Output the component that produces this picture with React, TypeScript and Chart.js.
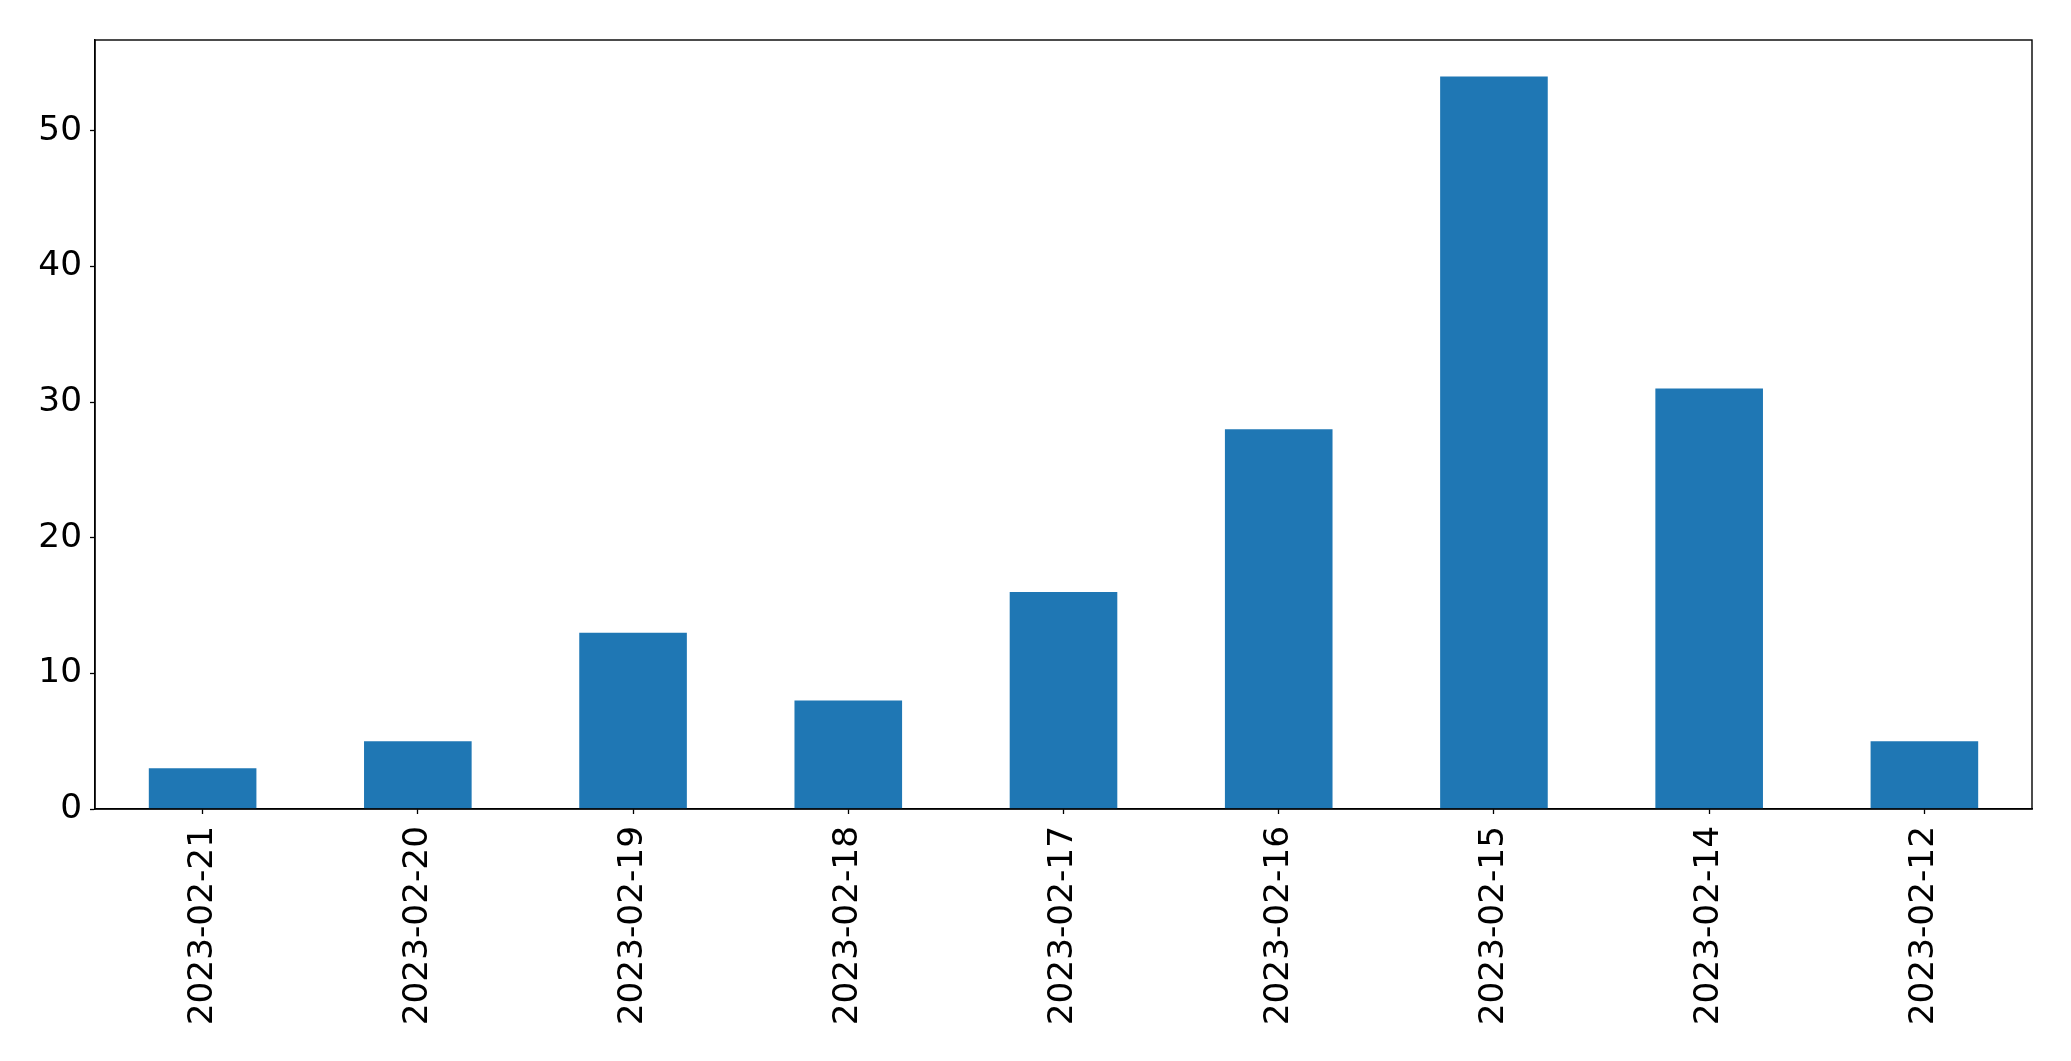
import React, { useEffect, useRef } from "react";
import { Chart, registerables } from "chart.js";

Chart.register(...registerables);

const categories = [
  "2023-02-21",
  "2023-02-20",
  "2023-02-19",
  "2023-02-18",
  "2023-02-17",
  "2023-02-16",
  "2023-02-15",
  "2023-02-14",
  "2023-02-12",
];
const counts = [3, 5, 13, 8, 16, 28, 54, 31, 5];
const yTicks = [0, 10, 20, 30, 40, 50];
const yMax = 56.7;

const framePlugin = {
  id: "frame",
  afterDraw(chart: any) {
    const { ctx, chartArea } = chart;
    ctx.save();
    ctx.strokeStyle = "#000";
    ctx.lineWidth = 1.4;
    ctx.strokeRect(
      chartArea.left,
      chartArea.top,
      chartArea.right - chartArea.left,
      chartArea.bottom - chartArea.top
    );
    ctx.restore();
  },
};

export default function App() {
  const ref = useRef<HTMLCanvasElement | null>(null);
  useEffect(() => {
    if (!ref.current) return;
    const font = { family: "'DejaVu Sans', sans-serif", size: 34.3 };
    const chart = new Chart(ref.current, {
      type: "bar",
      data: {
        labels: categories,
        datasets: [
          {
            data: counts,
            backgroundColor: "#1f77b4",
            borderWidth: 0,
            categoryPercentage: 1,
            barPercentage: 0.5,
          },
        ],
      },
      options: {
        responsive: false,
        animation: false,
        layout: { padding: { left: 0, top: 40, right: 39, bottom: 0 } },
        plugins: {
          legend: { display: false },
          tooltip: { enabled: false },
        },
        scales: {
          x: {
            grid: {
              display: true,
              offset: false,
              drawOnChartArea: false,
              drawTicks: true,
              tickLength: 5,
              tickColor: "#000",
              tickWidth: 1.3,
            },
            border: { display: true, color: "#000", width: 1.4 },
            ticks: {
              color: "#000",
              font,
              minRotation: 90,
              maxRotation: 90,
              padding: 12,
              autoSkip: false,
            },
            afterFit(scale: any) {
              scale.height = 252;
            },
          },
          y: {
            min: 0,
            max: yMax,
            grid: {
              display: true,
              drawOnChartArea: false,
              drawTicks: true,
              tickLength: 5,
              tickColor: "#000",
              tickWidth: 1.3,
            },
            border: { display: true, color: "#000", width: 1.4 },
            ticks: {
              color: "#000",
              font,
              padding: 8,
            },
            afterBuildTicks(scale: any) {
              scale.ticks = yTicks.map((v) => ({ value: v }));
            },
            afterFit(scale: any) {
              scale.width = 95;
            },
          },
        },
      },
      plugins: [framePlugin],
    });
    return () => chart.destroy();
  }, []);
  return (
    <div style={{ position: "fixed", left: 0, top: 0, width: 2071, height: 1061, background: "#fff" }}>
      <canvas ref={ref} width={2071} height={1061} style={{ display: "block" }} />
    </div>
  );
}
